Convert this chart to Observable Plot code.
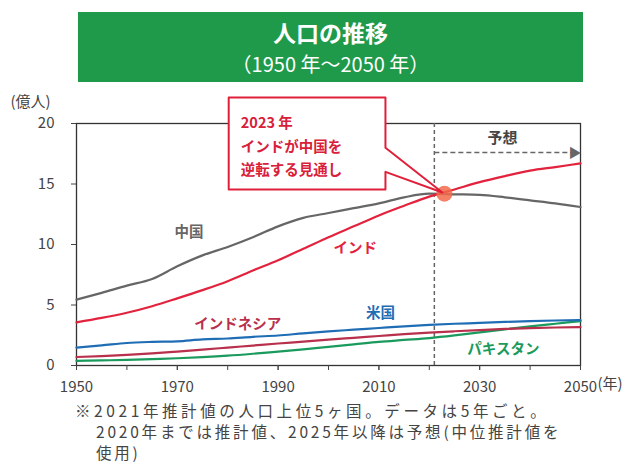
<!DOCTYPE html>
<html><head><meta charset="utf-8">
<script src="https://cdn.jsdelivr.net/npm/d3@7"></script>
<script src="https://cdn.jsdelivr.net/npm/@observablehq/plot@0.6"></script>
<style>
body{margin:0;background:#fff;font-family:"Noto Sans CJK JP","Noto Sans",sans-serif;width:641px;height:476px;overflow:hidden;position:relative}
#title{position:absolute;left:78px;top:12px;width:505px;height:70px;background:#1f9a4b;color:#fff;text-align:center;font-weight:bold}
#t1{position:absolute;left:0;right:0;top:7px;font-size:23px;line-height:26px;height:26px}
#t2{position:absolute;left:0;right:0;top:40px;font-size:20px;line-height:24px;height:24px;font-weight:normal}
#chart{position:absolute;left:0;top:85px}
#note{position:absolute;left:75px;top:400px;font-size:15.5px;line-height:21px;color:#444;white-space:nowrap}
#note div{height:21px}
#n1{letter-spacing:3.6px}
#n2,#n3{padding-left:21px;letter-spacing:2.8px}
</style></head>
<body>
<div id="title"><div id="t1">人口の推移</div><div id="t2">（1950 年～2050 年）</div></div>
<div id="chart"></div>
<div id="note"><div id="n1">※2021年推計値の人口上位5ヶ国。データは5年ごと。</div><div id="n2">2020年までは推計値、2025年以降は予想(中位推計値を</div><div id="n3">使用)</div></div>
<script>
const years = [1950,1955,1960,1965,1970,1975,1980,1985,1990,1995,2000,2005,2010,2015,2020,2025,2030,2035,2040,2045,2050];
const china     = [5.44,6.0,6.6,7.15,8.2,9.1,9.8,10.6,11.5,12.2,12.6,13.0,13.4,13.9,14.2,14.15,14.1,13.9,13.65,13.4,13.1];
const india     = [3.57,3.93,4.36,4.9,5.55,6.23,6.97,7.85,8.7,9.64,10.6,11.5,12.4,13.2,13.96,14.55,15.15,15.65,16.1,16.4,16.7];
const usa       = [1.48,1.66,1.86,1.95,2.0,2.16,2.23,2.37,2.48,2.66,2.82,2.96,3.1,3.24,3.36,3.45,3.52,3.6,3.67,3.72,3.75];
const indonesia = [0.70,0.78,0.88,1.0,1.15,1.31,1.48,1.65,1.82,1.97,2.14,2.29,2.44,2.59,2.72,2.83,2.93,3.02,3.09,3.14,3.17];
const pakistan  = [0.38,0.42,0.46,0.53,0.6,0.69,0.81,0.97,1.15,1.33,1.54,1.74,1.95,2.11,2.27,2.49,2.74,2.99,3.23,3.45,3.67];
const countries = ["パキスタン","インドネシア","米国","中国","インド"];
const seriesValues = [pakistan, indonesia, usa, china, india];
const colors = ["#1a9a5c","#b8304c","#1f6db5","#666666","#e3223d"];
const yTicks = [0,5,10,15,20];
const xMinorTicks = [1950,1960,1970,1980,1990,2000,2010,2020,2030,2040,2050];
const xLabelTicks = [1950,1970,1990,2010,2030,2050];

const data = countries.flatMap((c,i) => years.map((y,j) => ({country:c, year:y, value:seriesValues[i][j]})));

// series name labels (data coordinates)
const labels = [
  {text:"中国", x:1972.3, y:11.0, color:"#666666"},
  {text:"インド", x:2005.3, y:9.7, color:"#e3223d"},
  {text:"インドネシア", x:1982, y:3.4, color:"#b8304c"},
  {text:"米国", x:2010.3, y:4.3, color:"#1f6db5"},
  {text:"パキスタン", x:2034.7, y:1.3, color:"#1a9a5c"}
];
// callout shape (data coordinates)
const callout = [
  {x:1980.2,y:22.15},{x:2011.3,y:22.15},{x:2011.3,y:18.0},{x:2022.6,y:14.3},
  {x:2011.3,y:16.0},{x:2011.3,y:14.55},{x:1980.2,y:14.55},{x:1980.2,y:22.15}
];
const crossYear = 2023, crossValue = 14.2, forecastStart = 2021;

const marks = [
  Plot.frame({stroke:"#333", strokeWidth:1.3}),
  Plot.axisY({ticks:yTicks, tickSize:5, tickPadding:17, fontSize:15, label:null, tickFormat:d=>String(d)}),
  Plot.axisX({ticks:xMinorTicks, tickSize:5, tickFormat:()=>"", label:null}),
  Plot.axisX({ticks:xLabelTicks, tickSize:5, tickPadding:11, fontSize:15, label:null, tickFormat:d=>String(d)}),
  Plot.text(["(年)"], {x:()=>2050, frameAnchor:"bottom", dy:23, dx:17, textAnchor:"start", fontSize:15, fill:"#444"}),
  Plot.text(["(億人)"], {frameAnchor:"top-left", dx:-66, dy:-27, textAnchor:"start", fontSize:15, fill:"#444"}),
  Plot.ruleX([forecastStart], {y1:0, y2:20, stroke:"#666", strokeDasharray:"4,3", strokeWidth:1.5}),
  Plot.link([{x1:forecastStart, x2:2048.5, y:17.6}], {x1:"x1", x2:"x2", y1:"y", y2:"y", stroke:"#666", strokeDasharray:"5,3", strokeWidth:1.5}),
  Plot.text(["▶"], {x:()=>2048.9, y:()=>17.6, fill:"#666", fontSize:13}),
  Plot.text(["予想"], {x:()=>2034.5, y:()=>18.8, fill:"#444", fontSize:15, fontWeight:"bold"}),
];
countries.forEach((c,i) => {
  marks.push(Plot.line(data.filter(d=>d.country===c), {x:"year", y:"value", stroke:colors[i], strokeWidth:2.2, curve:"monotone-x"}));
});
marks.push(
  Plot.dot([{x:crossYear, y:crossValue}], {x:"x", y:"y", r:8, fill:"#f26b4a", fillOpacity:0.85}),
  Plot.line(callout, {x:"x", y:"y", fill:"white", stroke:"#e0203a", strokeWidth:2}),
  Plot.text(["2023 年\nインドが中国を\n逆転する見通し"], {x:()=>1982.6, y:()=>18.3, textAnchor:"start", lineAnchor:"middle", lineHeight:1.62, fontSize:14.5, fill:"#d9203a", fontWeight:"bold"}),
  Plot.text(labels, {x:"x", y:"y", text:"text", fill:"color", fontSize:14.5, fontWeight:"bold"})
);

const chart = Plot.plot({
  width:641, height:320,
  marginLeft:76, marginRight:61, marginTop:38, marginBottom:40,
  x:{domain:[1950,2050]},
  y:{domain:[0,20]},
  style:{fontFamily:'"Noto Sans CJK JP","Noto Sans",sans-serif', color:"#444", background:"transparent", overflow:"visible"},
  marks
});
document.getElementById("chart").appendChild(chart);
</script>
</body></html>
